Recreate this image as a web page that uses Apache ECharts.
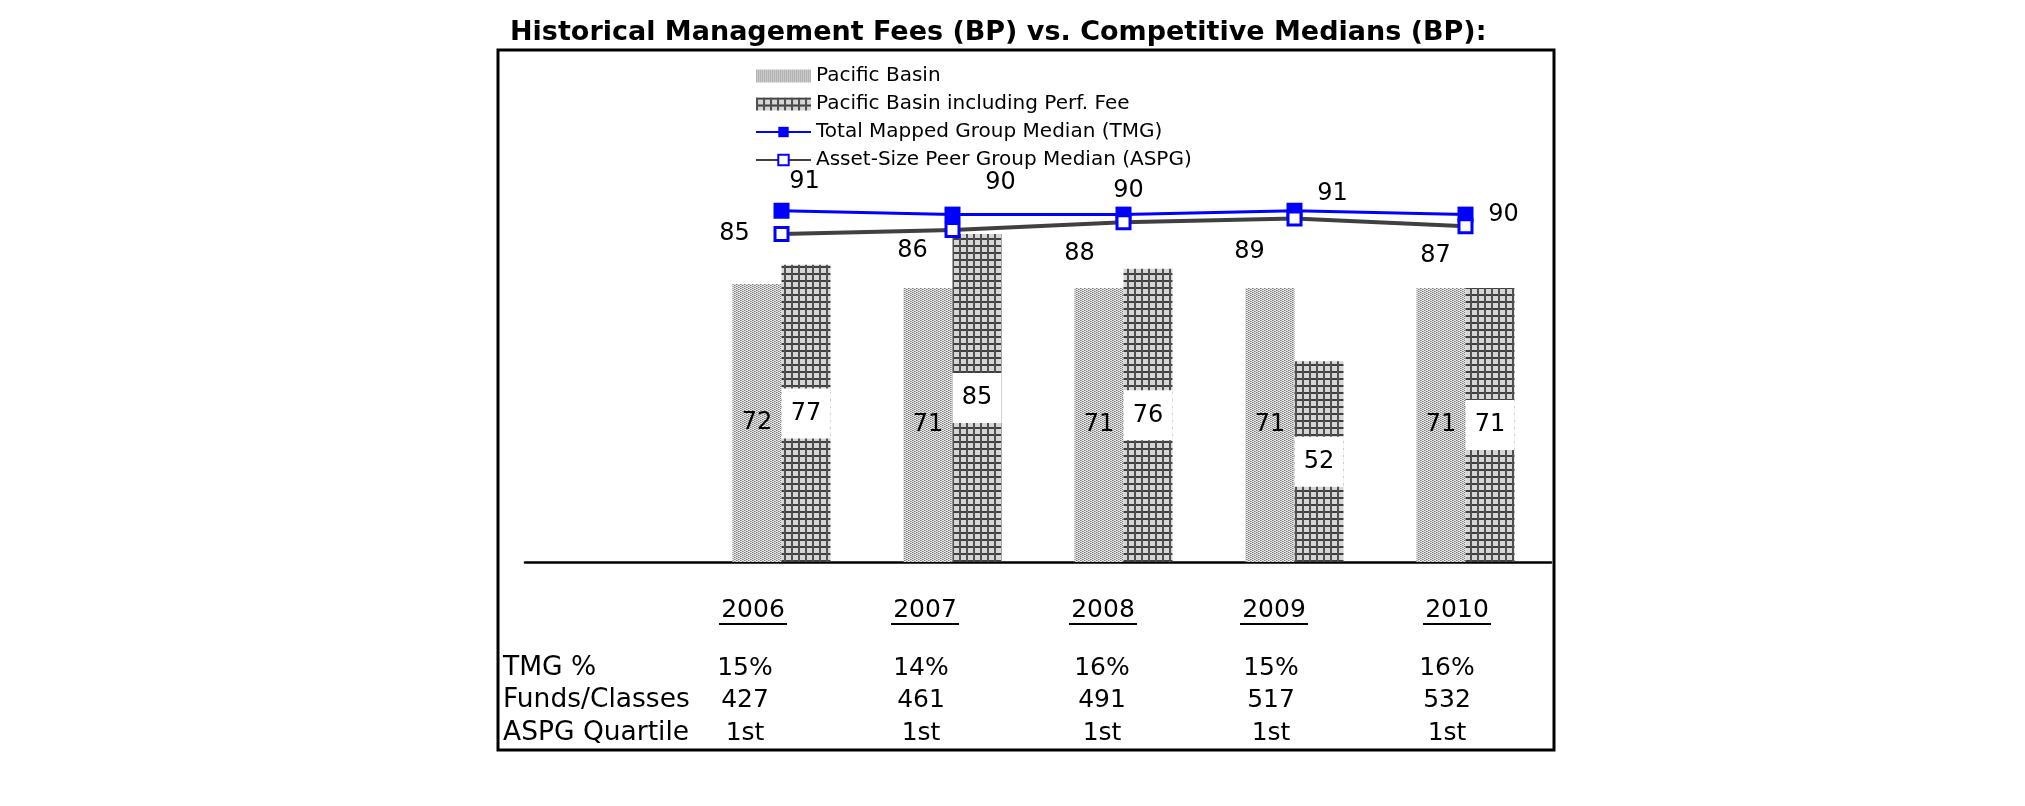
<!DOCTYPE html>
<html><head><meta charset="utf-8">
<script src="https://cdn.jsdelivr.net/npm/echarts@6/dist/echarts.min.js"></script>
<style>html,body{margin:0;padding:0;background:#fff}#c{width:2025px;height:806px}</style>
</head><body><div id="c"></div>
<script>
// ---- data ----
const years = [2006, 2007, 2008, 2009, 2010];
const pacificBasin = [72, 71, 71, 71, 71];
const pacificBasinPerf = [77, 85, 76, 52, 71];
const tmgMedian = [91, 90, 90, 91, 90];
const aspgMedian = [85, 86, 88, 89, 87];
const tmgPct = ['15%', '14%', '16%', '15%', '16%'];
const fundsClasses = ['427', '461', '491', '517', '532'];
const aspgQuartile = ['1st', '1st', '1st', '1st', '1st'];
const rowLabels = ['TMG %', 'Funds/Classes', 'ASPG Quartile'];
const seriesNames = ['Pacific Basin', 'Pacific Basin including Perf. Fee',
  'Total Mapped Group Median (TMG)', 'Asset-Size Peer Group Median (ASPG)'];
const titleText = 'Historical Management Fees (BP) vs. Competitive Medians (BP):';

// ---- styling / layout ----
const FONT = '"DejaVu Sans", Verdana, sans-serif';
const tmgLabelOffset = [[23, -29], [48, -32], [5, -24], [38, -17], [38, 0]];
const aspgLabelOffset = [[-47, 0], [-40, 21], [-44, 31], [-45, 33], [-30, 30]];
const yearColX = [753, 925, 1103, 1274, 1457];
const valueColX = [745, 921, 1102, 1271, 1447];
const yearRowY = 610;
const tableRowY = [668, 700, 733];

function tile(w, h, draw) {
  const c = document.createElement('canvas');
  c.width = w; c.height = h;
  draw(c.getContext('2d'));
  return c;
}
const dotTile = tile(4, 4, g => {
  g.fillStyle = '#e8e8e8'; g.fillRect(0, 0, 4, 4);
  g.fillStyle = '#7e7e7e';
  g.fillRect(0, 0, 1, 1); g.fillRect(2, 1, 1, 1); g.fillRect(0, 2, 1, 1); g.fillRect(2, 3, 1, 1);
  g.fillStyle = '#aaaaaa';
  g.fillRect(1, 0, 1, 1); g.fillRect(3, 1, 1, 1); g.fillRect(1, 2, 1, 1); g.fillRect(3, 3, 1, 1);
});
const gridTile = tile(7, 7, g => {
  g.fillStyle = '#d6d6d6'; g.fillRect(0, 0, 7, 7);
  g.fillStyle = '#3f3f3f';
  g.fillRect(0, 0, 7, 2);
  g.fillStyle = '#505050';
  g.fillRect(0, 0, 2, 7);
});
const dotFill = { image: dotTile, repeat: 'repeat' };
const gridFill = { image: gridTile, repeat: 'repeat' };

const graphics = [
  { type: 'rect', shape: { x: 498, y: 50, width: 1056, height: 700 },
    style: { fill: 'none', stroke: '#000', lineWidth: 3 }, z: 1 }
];
years.forEach((y, i) => {
  graphics.push({ type: 'text', x: yearColX[i], y: yearRowY,
    style: { text: String(y), font: '25px ' + FONT, fill: '#000', textAlign: 'center', textVerticalAlign: 'middle' } });
  graphics.push({ type: 'line', shape: { x1: yearColX[i] - 34, y1: yearRowY + 14, x2: yearColX[i] + 34, y2: yearRowY + 14 },
    style: { stroke: '#000', lineWidth: 2 } });
});
const tableRows = [tmgPct, fundsClasses, aspgQuartile];
rowLabels.forEach((lab, r) => {
  graphics.push({ type: 'text', x: 503, y: tableRowY[r],
    style: { text: lab, font: '26.5px ' + FONT, fill: '#000', textAlign: 'left', textVerticalAlign: 'middle' } });
  tableRows[r].forEach((v, i) => {
    graphics.push({ type: 'text', x: valueColX[i], y: tableRowY[r],
      style: { text: v, font: '25px ' + FONT, fill: '#000', textAlign: 'center', textVerticalAlign: 'middle' } });
  });
});

const chart = echarts.init(document.getElementById('c'), null, { renderer: 'canvas' });
chart.setOption({
  backgroundColor: '#fff',
  animation: false,
  textStyle: { fontFamily: FONT },
  title: {
    text: titleText, left: 505, top: 14,
    textStyle: { fontFamily: FONT, fontSize: 27, fontWeight: 'bold', color: '#000' }
  },
  legend: {
    orient: 'vertical', left: 750, top: 61,
    itemWidth: 55, itemHeight: 13, itemGap: 8,
    textStyle: { fontFamily: FONT, fontSize: 20, color: '#000' },
    data: [
      { name: seriesNames[0], icon: 'rect' },
      { name: seriesNames[1], icon: 'rect' },
      { name: seriesNames[2] },
      { name: seriesNames[3] }
    ]
  },
  grid: { left: 525, width: 1026, top: 176, height: 386 },
  xAxis: {
    type: 'value', min: 2004.5, max: 2010.5,
    axisLine: { show: true, onZero: false, lineStyle: { color: '#000', width: 2.5 } },
    axisTick: { show: false }, axisLabel: { show: false }, splitLine: { show: false }
  },
  yAxis: { type: 'value', min: 0, max: 100, show: false },
  series: [
    {
      name: seriesNames[0], type: 'bar', barWidth: 49, barGap: '0%',
      itemStyle: { color: dotFill },
      label: { show: true, position: 'inside', fontSize: 24, color: '#000', fontFamily: FONT },
      data: years.map((y, i) => [y, pacificBasin[i]])
    },
    {
      name: seriesNames[1], type: 'bar', barWidth: 49, barGap: '0%',
      itemStyle: { color: gridFill },
      label: { show: true, position: 'inside', fontSize: 24, color: '#000', fontFamily: FONT,
        backgroundColor: '#fff', width: 49, align: 'center', lineHeight: 26, padding: [12, 0, 12, 0] },
      data: years.map((y, i) => [y, pacificBasinPerf[i]])
    },
    {
      name: seriesNames[2], type: 'line', symbol: 'rect', symbolSize: 16,
      lineStyle: { color: '#0000ff', width: 3 },
      itemStyle: { color: '#0000ff' },
      label: { show: true, position: 'inside', fontSize: 24, color: '#000', fontFamily: FONT },
      data: years.map((y, i) => ({ value: [y, tmgMedian[i]], label: { offset: tmgLabelOffset[i] } })),
      z: 3
    },
    {
      name: seriesNames[3], type: 'line', symbol: 'rect', symbolSize: 13,
      lineStyle: { color: '#404040', width: 4 },
      itemStyle: { color: '#ffffff', borderColor: '#0000ff', borderWidth: 3 },
      label: { show: true, position: 'inside', fontSize: 24, color: '#000', fontFamily: FONT },
      data: years.map((y, i) => ({ value: [y, aspgMedian[i]], label: { offset: aspgLabelOffset[i] } })),
      z: 4
    }
  ],
  graphic: graphics
});
</script></body></html>
